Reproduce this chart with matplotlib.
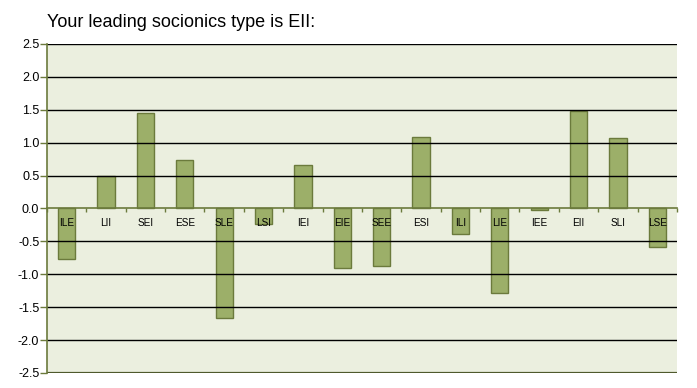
import matplotlib
matplotlib.use("Agg")
import matplotlib.pyplot as plt
import numpy as np

plt.rcParams["font.family"] = ["Liberation Sans", "DejaVu Sans"]

# data
types = ["ILE", "LII", "SEI", "ESE", "SLE", "LSI", "IEI", "EIE",
         "SEE", "ESI", "ILI", "LIE", "IEE", "EII", "SLI", "LSE"]
scores = [-0.77, 0.49, 1.45, 0.74, -1.67, -0.24, 0.66, -0.91,
          -0.87, 1.09, -0.39, -1.28, -0.03, 1.48, 1.07, -0.58]
yticks = [2.5, 2.0, 1.5, 1.0, 0.5, 0.0, -0.5, -1.0, -1.5, -2.0, -2.5]
title = "Your leading socionics type is EII:"

olive = "#6b7a3c"
bg = "#ebefdf"
bar_fill = "#9caf69"

fig = plt.figure(figsize=(6.97, 3.88), dpi=100)
ax = fig.add_axes([0.0674, 0.0387, 0.9039, 0.8479])
ax.set_facecolor(bg)

x = np.arange(len(types))
ax.bar(x, scores, width=0.44, color=bar_fill, edgecolor=olive,
       linewidth=1.0, zorder=1)

ax.set_xlim(-0.5, len(types) - 0.5)
ax.set_ylim(-2.5, 2.5)

# horizontal grid lines
for v in yticks:
    if v == -2.5:
        ax.axhline(v, color="#4f5a2c", lw=1.6, zorder=1.5)
    elif v != 0:
        ax.axhline(v, color="black", lw=1.0, zorder=1.5)

# y axis
ax.set_yticks(yticks)
ax.set_yticklabels([f"{v:.1f}" for v in yticks], fontsize=9)
ax.tick_params(axis="y", direction="out", length=5, color=olive, width=1, pad=0.5)

# x axis sits on zero
ax.spines["bottom"].set_position(("data", 0))
ax.spines["bottom"].set_color(olive)
ax.spines["bottom"].set_linewidth(1.2)
ax.spines["left"].set_color(olive)
ax.spines["left"].set_linewidth(1.2)
ax.spines["top"].set_visible(False)
ax.spines["right"].set_visible(False)

ax.set_xticks(x)
ax.set_xticklabels(types, fontsize=7.2)
ax.set_xticks(np.arange(len(types) + 1) - 0.5, minor=True)
ax.tick_params(axis="x", which="major", length=0, pad=7)
ax.tick_params(axis="x", which="minor", direction="out", length=3,
               color=olive, width=1)

fig.text(0.0674, 0.943, title, fontsize=13, ha="left", va="center")

fig.savefig("out.png", dpi=100)
